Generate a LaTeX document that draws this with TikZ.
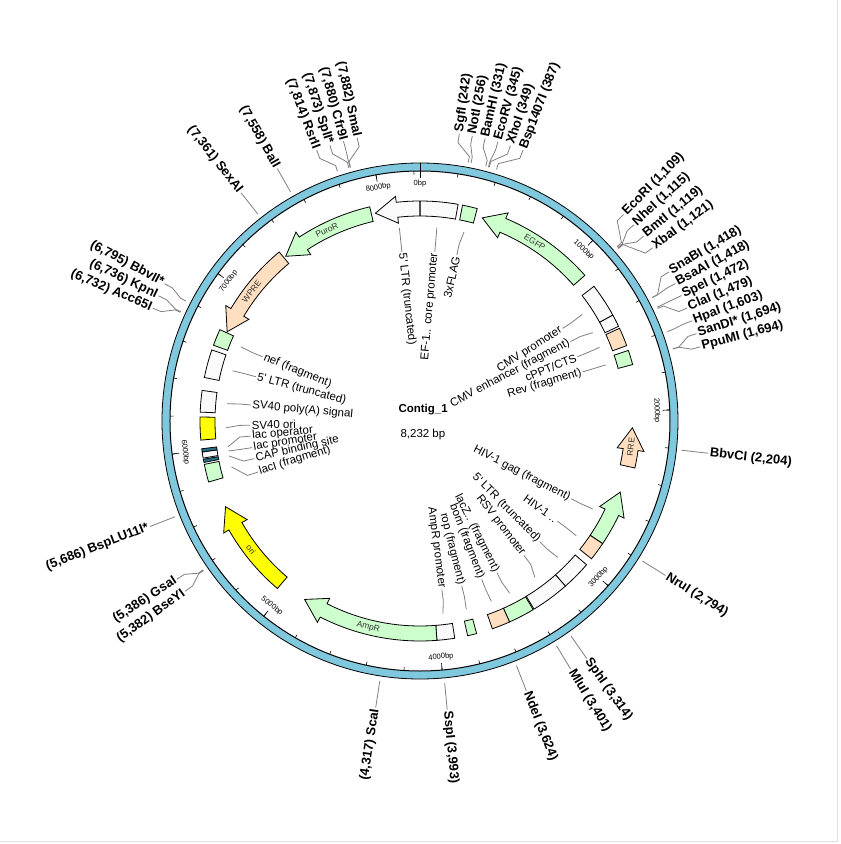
\documentclass[tikz,border=0pt]{standalone}
\usepackage{fontspec}
\setmainfont{Liberation Sans}
\usetikzlibrary{calc}

\definecolor{ringblue}{RGB}{127,200,221}
\definecolor{featgreen}{RGB}{204,255,204}
\definecolor{featpeach}{RGB}{255,223,191}
\definecolor{featyellow}{RGB}{255,255,0}
\definecolor{featteal}{RGB}{38,115,140}
\definecolor{boxwhite}{RGB}{250,250,250}
\definecolor{leadgray}{RGB}{128,128,128}

\tikzset{
  featline/.style={draw=black, line width=0.8pt},
  labline/.style={draw=leadgray, line width=0.8pt},
  sitetext/.style={font=\fontsize{13}{15}\selectfont\bfseries, inner sep=1.5pt},
  feattext/.style={font=\fontsize{11.5}{13}\selectfont, inner sep=1.5pt},
  arrowtext/.style={font=\fontsize{8.5}{9}\selectfont, text=black!80, inner sep=0pt},
  ticktext/.style={font=\fontsize{7.5}{8}\selectfont, inner sep=0pt},
}

% feature box: start bp, end bp, colour
\newcommand{\featbox}[3]{%
  \pgfmathsetmacro\fa{90-(#1/8232)*360}%
  \pgfmathsetmacro\fb{90-(#2/8232)*360}%
  \draw[featline, fill=#3] (\fa:205) arc[start angle=\fa, end angle=\fb, radius=205]
    -- (\fb:220) arc[start angle=\fb, end angle=\fa, radius=220] -- cycle;}

% feature arrow, head at the end
\newcommand{\featcw}[3]{%
  \pgfmathsetmacro\fa{90-(#1/8232)*360}%
  \pgfmathsetmacro\fb{90-(#2/8232)*360}%
  \pgfmathsetmacro\fh{\fb+5.9}%
  \draw[featline, fill=#3] (\fa:205) -- (\fa:220) arc[start angle=\fa, end angle=\fh, radius=220]
    -- (\fh:226) -- (\fb:212.5) -- (\fh:199) -- (\fh:205)
    arc[start angle=\fh, end angle=\fa, radius=205] -- cycle;}

% feature arrow, head at the start
\newcommand{\featccw}[3]{%
  \pgfmathsetmacro\fa{90-(#1/8232)*360}%
  \pgfmathsetmacro\fb{90-(#2/8232)*360}%
  \pgfmathsetmacro\fh{\fa-5.9}%
  \draw[featline, fill=#3] (\fb:205) -- (\fb:220) arc[start angle=\fb, end angle=\fh, radius=220]
    -- (\fh:226) -- (\fa:212.5) -- (\fh:199) -- (\fh:205)
    arc[start angle=\fh, end angle=\fb, radius=205] -- cycle;}

% inner label: line angle, label angle, name, text
\newcommand{\featlabel}[4]{%
  \pgfmathtruncatemacro\rside{cos(#2)>=0}%
  \ifnum\rside=1
    \node[feattext, anchor=east, rotate=#2] (#3) at (#2:170) {#4};
    \draw[labline] (#1:194) -- (#2:181) -- (#3.east);
  \else
    \node[feattext, anchor=west, rotate=#2+180] (#3) at (#2:170) {#4};
    \draw[labline] (#1:194) -- (#2:181) -- (#3.west);
  \fi}

% cut site: [label shift] bp, name, text
\newcommand{\cutsite}[4][0]{%
  \pgfmathsetmacro\sa{90-(#2/8232)*360}%
  \pgfmathsetmacro\la{\sa+(#1)}%
  \pgfmathtruncatemacro\rside{cos(\la)>=0}%
  \ifnum\rside=1
    \node[sitetext, anchor=west, rotate=\la] (#3) at (\la:290) {#4};
    \draw[labline] (\sa:263) -- (\sa:269) -- (\la:281) -- (#3.west);
  \else
    \node[sitetext, anchor=east, rotate=\la+180] (#3) at (\la:290) {#4};
    \draw[labline] (\sa:263) -- (\sa:269) -- (\la:281) -- (#3.east);
  \fi}

\begin{document}
\begin{tikzpicture}[x=1pt, y=1pt]
  \useasboundingbox[fill=white] (-420,-423) rectangle (421,421);
  \draw[black!12] (417,421) -- (417,-420) -- (-420,-420);

  % Ring
  \draw[fill=ringblue, line width=0.8pt] (0,0) circle[radius=258];
  \draw[fill=white, line width=1pt] (0,0) circle[radius=250];
  \draw[line width=0.8pt] (90:243) -- (90:258);

  % Ticks
  \foreach \k in {1,...,41} {
    \pgfmathsetmacro\ta{90-(\k*200/8232)*360}
    \draw[line width=0.6pt] (\ta:250) -- (\ta:246.5);
  }
  \foreach \k in {0,...,8} {
    \pgfmathsetmacro\ta{90-(\k*1000/8232)*360}
    \pgfmathtruncatemacro\up{sin(\ta)>=-0.01}
    \ifnum\up=1 \pgfmathsetmacro\tr{\ta-90} \else \pgfmathsetmacro\tr{\ta+90} \fi
    \draw[line width=0.6pt] (\ta:250) -- (\ta:243);
    \node[ticktext, rotate=\tr] (tick\k) at (\ta:237) {\ifnum\k=0 0\else\k000\fi bp};
  }

  % Features
  \featbox{2}{228}{boxwhite}
  \featbox{255}{345}{featgreen}
  \featccw{390}{1110}{featgreen}
  \featbox{1195}{1400}{boxwhite}
  \featbox{1400}{1475}{boxwhite}
  \featbox{1488}{1600}{featpeach}
  \featbox{1630}{1718}{featgreen}
  \featccw{2100}{2340}{featpeach}
  \featccw{2505}{2833}{featgreen}
  \featbox{2833}{2945}{featpeach}
  \featbox{2991}{3170}{boxwhite}
  \featbox{3170}{3402}{boxwhite}
  \featbox{3408}{3567}{featgreen}
  \featbox{3567}{3677}{featpeach}
  \featbox{3775}{3830}{featgreen}
  \featbox{3908}{4015}{boxwhite}
  \featcw{4015}{4868}{featgreen}
  \featcw{5040}{5630}{featyellow}
  \featbox{5806}{5914}{featgreen}
  \featbox{5926}{5945}{featteal}
  \featbox{5952}{5989}{boxwhite}
  \featbox{5989}{6008}{featteal}
  \featbox{6060}{6198}{featyellow}
  \featbox{6227}{6357}{boxwhite}
  \featbox{6435}{6605}{boxwhite}
  \featbox{6635}{6735}{featgreen}
  \featccw{6742}{7322}{featpeach}
  \featccw{7336}{7930}{featgreen}
  \featccw{7955}{8230}{boxwhite}

  % Names inside arrows
  \node[arrowtext, rotate=-32.7] (t-egfp) at (57.3:212.5) {EGFP};
  \node[arrowtext, rotate=26] (t-puro) at (116:212.5) {PuroR};
  \node[arrowtext, rotate=52.4] (t-wpre) at (142.4:212.5) {WPRE};
  \node[arrowtext, rotate=-14.1] (t-ampr) at (-104.1:212.5) {AmpR};
  \node[arrowtext, rotate=-52.7] (t-ori) at (-142.7:212.5) {ori};
  \node[arrowtext, rotate=83] (t-rre) at (-7:212.5) {RRE};

  % Feature labels
  \featlabel{96.1}{96.1}{f-ltr}{5\textquotesingle{} LTR (truncated)}
  \featlabel{85}{85}{f-ef}{EF-1.. core promoter}
  \featlabel{76.9}{77.5}{f-flag}{3xFLAG}
  \featlabel{33.3}{33}{f-cmvp}{CMV promoter}
  \featlabel{27.1}{27.8}{f-cmve}{CMV enhancer (fragment)}
  \featlabel{22.3}{22.2}{f-cppt}{cPPT/CTS}
  \featlabel{16.8}{16.8}{f-rev}{Rev (fragment)}
  \featlabel{-27}{-27.2}{f-gag}{HIV-1 gag (fragment)}
  \featlabel{-36.3}{-36.1}{f-psi}{HIV-1 ..}
  \featlabel{-44.7}{-45.2}{f-ltr2}{5\textquotesingle{} LTR (truncated)}
  \featlabel{-53.7}{-52.3}{f-rsv}{RSV promoter}
  \featlabel{-62.5}{-63.1}{f-lacz}{lacZ.. (fragment)}
  \featlabel{-68.4}{-68.7}{f-bom}{bom (fragment)}
  \featlabel{-76.2}{-75.8}{f-rop}{rop (fragment)}
  \featlabel{-83.2}{-82.6}{f-ampp}{AmpR promoter}
  \featlabel{157.5}{157.8}{f-nef}{nef (fragment)}
  \featlabel{165}{164.9}{f-ltr3}{5\textquotesingle{} LTR (truncated)}
  \featlabel{174.9}{174.6}{f-pa}{SV40 poly(A) signal}
  \featlabel{182}{181.4}{f-sv40}{SV40 ori}
  \featlabel{187.7}{185.1}{f-laco}{lac operator}
  \featlabel{188.9}{189}{f-lacp}{lac promoter}
  \featlabel{190.4}{192.8}{f-cap}{CAP binding site}
  \featlabel{193.7}{197.5}{f-laci}{lacI (fragment)}

  % Cut sites
  \cutsite[2.8]{242}{e-sgf}{SgfI (242)}
  \cutsite[0.8]{256}{e-not}{NotI (256)}
  \cutsite[1.5]{331}{e-bam}{BamHI (331)}
  \cutsite[-0.5]{345}{e-ecorv}{EcoRV (345)}
  \cutsite[-2.9]{349}{e-xho}{XhoI (349)}
  \cutsite[-3.9]{387}{e-bsp}{Bsp1407I (387)}
  \cutsite[3.9]{1109}{e-ecori}{EcoRI (1,109)}
  \cutsite[1.3]{1115}{e-nhe}{NheI (1,115)}
  \cutsite[-1.5]{1119}{e-bmt}{BmtI (1,119)}
  \cutsite[-4.3]{1121}{e-xba}{XbaI (1,121)}
  \cutsite[2.9]{1418}{e-sna}{SnaBI (1,418)}
  \cutsite[0.3]{1418}{e-bsaa}{BsaAI (1,418)}
  \cutsite{1472}{e-spe}{SpeI (1,472)}
  \cutsite[-2.4]{1479}{e-cla}{ClaI (1,479)}
  \cutsite[0.3]{1603}{e-hpa}{HpaI (1,603)}
  \cutsite[1.6]{1694}{e-sandi}{SanDI* (1,694)}
  \cutsite[-1.1]{1694}{e-ppumi}{PpuMI (1,694)}
  \cutsite{2204}{e-bbvci}{BbvCI (2,204)}
  \cutsite{2794}{e-nru}{NruI (2,794)}
  \cutsite{3314}{e-sph}{SphI (3,314)}
  \cutsite{3401}{e-mlu}{MluI (3,401)}
  \cutsite{3624}{e-nde}{NdeI (3,624)}
  \cutsite{3993}{e-ssp}{SspI (3,993)}
  \cutsite{4317}{e-sca}{(4,317) ScaI}
  \cutsite[1.3]{5382}{e-bsey}{(5,382) BseYI}
  \cutsite[-1.4]{5386}{e-gsa}{(5,386) GsaI}
  \cutsite{5686}{e-bsplu}{(5,686) BspLU11I*}
  \cutsite[1.5]{6732}{e-acc}{(6,732) Acc65I}
  \cutsite[-1.0]{6736}{e-kpn}{(6,736) KpnI}
  \cutsite[-1.1]{6795}{e-bbvii}{(6,795) BbvII*}
  \cutsite{7361}{e-sexa}{(7,361) SexAI}
  \cutsite{7558}{e-bal}{(7,558) BalI}
  \cutsite[2.6]{7814}{e-rsr}{(7,814) RsrII}
  \cutsite[2.4]{7873}{e-spl}{(7,873) SplI*}
  \cutsite[-0.1]{7880}{e-cfr}{(7,880) Cfr9I}
  \cutsite[-2.8]{7882}{e-sma}{(7,882) SmaI}

  % Centre
  \node[anchor=base west, font=\fontsize{11.5}{13}\selectfont\bfseries] (title) at (-25,9) {Contig\_1};
  \node[anchor=base west, font=\fontsize{11.5}{13}\selectfont] (length) at (-23,-16) {8,232 bp};
\end{tikzpicture}
\end{document}
